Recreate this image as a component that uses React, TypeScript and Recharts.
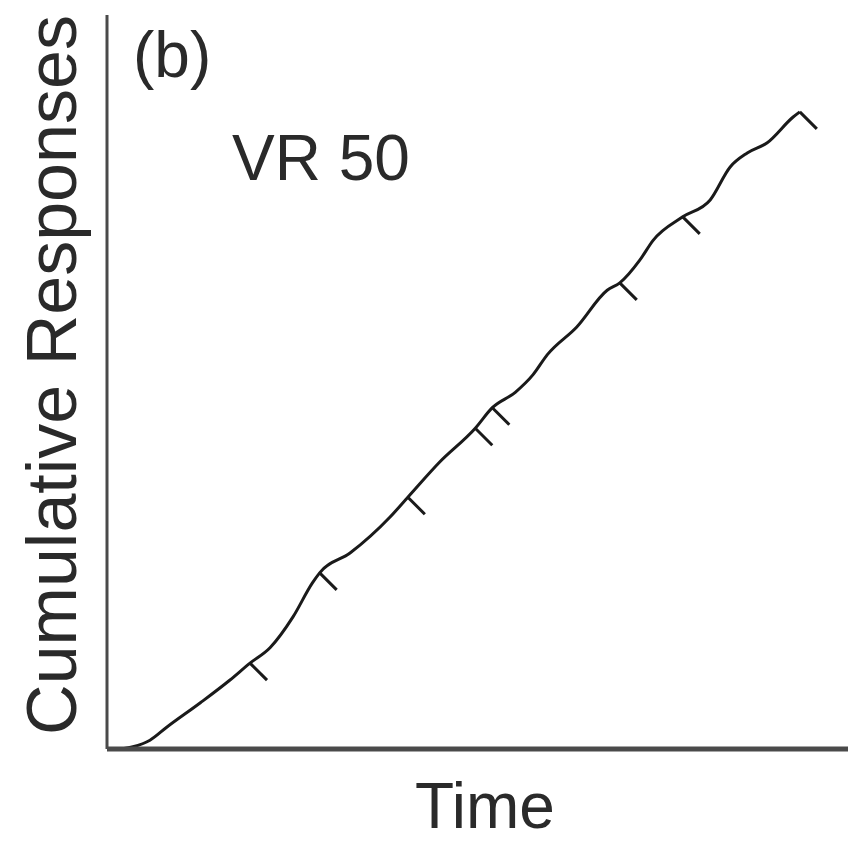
import React from 'react';
import { LineChart, Line, XAxis, YAxis, Customized } from 'recharts';

// Time (arbitrary units) and cumulative responses (arbitrary units)
const times = [2.0, 3.5, 5.8, 8.1, 12.6, 16.6, 19.3, 22.0, 25.1, 27.7, 28.7, 32.8, 38.2, 40.6, 44.9, 49.7, 52.0, 55.1, 57.5, 59.4, 63.4, 67.5, 69.2, 71.9, 73.7, 77.7, 81.4, 84.1, 86.4, 89.1, 92.6, 93.5];
const responses = [0, 0.3, 1.2, 3.0, 6.3, 9.4, 11.7, 13.8, 18.0, 22.6, 24.0, 26.7, 31.6, 34.3, 39.1, 43.7, 46.5, 48.6, 51.0, 53.7, 57.5, 62.5, 63.5, 66.6, 69.3, 72.5, 74.8, 79.3, 81.2, 82.6, 86.1, 86.8];
// indices where a reinforcer was delivered (hatch marks)
const reinforcedIdx = [6, 10, 13, 15, 16, 22, 25, 31];

const panelLabel = '(b)';
const scheduleLabel = 'VR 50';
const xLabel = 'Time';
const yLabel = 'Cumulative Responses';

const data = times.map((t, i) => ({ t, r: responses[i], sr: reinforcedIdx.includes(i) }));

const FONT = 'Liberation Sans, Arial, Helvetica, sans-serif';

const Dot = (props: any) => {
  const { cx, cy, payload, index } = props;
  if (!payload || !payload.sr) return <g key={`d${index}`} />;
  return (
    <path
      key={`d${index}`}
      d={`M${cx},${cy} L${cx + 17},${cy + 17}`}
      stroke="#1a1a1a"
      strokeWidth={3}
      fill="none"
    />
  );
};

const Texts = () => (
  <g fontFamily={FONT} fill="#2a2a2a">
    <text x={133} y={77} fontSize={64}>{panelLabel}</text>
    <text x={232} y={180} fontSize={64}>{scheduleLabel}</text>
    <text x={485} y={828} fontSize={64} textAnchor="middle">{xLabel}</text>
    <text x={76} y={375} fontSize={70} textAnchor="middle" transform="rotate(-90 76 375)">{yLabel}</text>
  </g>
);

export default function App() {
  return (
    <div style={{ position: 'absolute', left: 0, top: 0, background: '#fff' }}>
      <LineChart width={848} height={844} data={data} margin={{ top: 15, right: 0, left: 106, bottom: 94 }}>
        <XAxis
          type="number"
          dataKey="t"
          domain={[0, 100]}
          height={1}
          tick={false}
          tickLine={false}
          axisLine={{ stroke: '#4a4a4a', strokeWidth: 5 }}
        />
        <YAxis
          type="number"
          domain={[0, 100]}
          width={1}
          tick={false}
          tickLine={false}
          axisLine={{ stroke: '#4a4a4a', strokeWidth: 3 }}
        />
        <Line
          type="monotone"
          dataKey="r"
          stroke="#1a1a1a"
          strokeWidth={3}
          dot={Dot}
          activeDot={false}
          isAnimationActive={false}
        />
        <Customized component={Texts} />
      </LineChart>
    </div>
  );
}
